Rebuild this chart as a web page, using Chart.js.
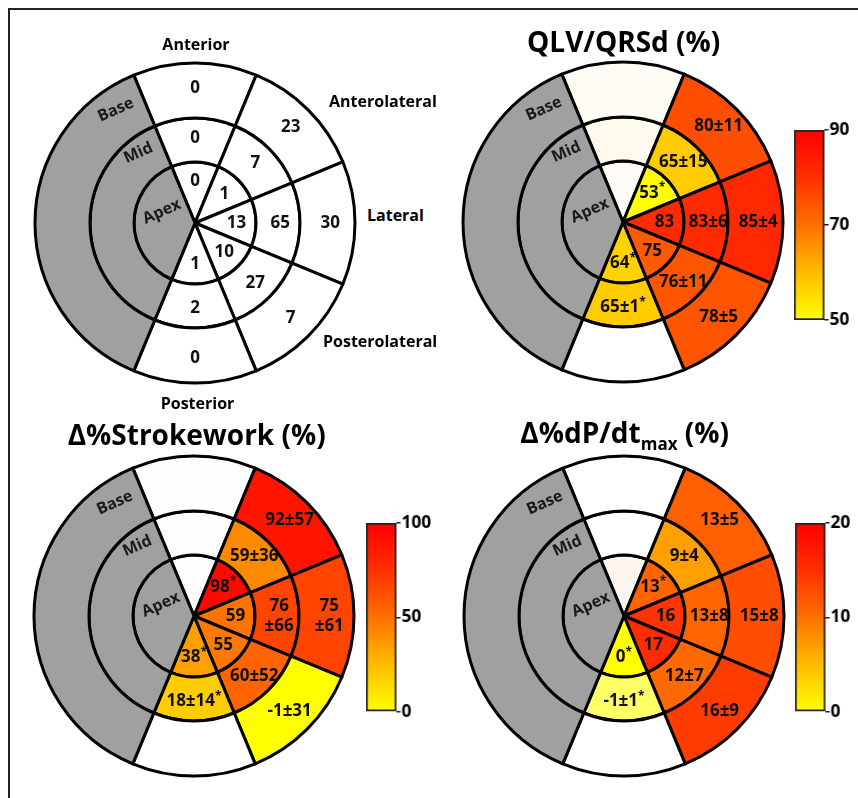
<!DOCTYPE html>
<html><head><meta charset="utf-8">
<script src="https://cdn.jsdelivr.net/npm/chart.js@4.4.1/dist/chart.umd.min.js"></script>
<style>
html,body{margin:0;padding:0;background:#fff;}
#page{position:relative;width:858px;height:798px;overflow:hidden;background:#fff;font-family:'Open Sans',sans-serif;font-weight:700;color:#000;}
#page canvas{position:absolute;}
.t{position:absolute;white-space:nowrap;line-height:1;font-weight:700;}
.frame{position:absolute;background:#222;}
</style></head><body><div id="page">
<div class="frame" style="left:8px;top:8px;width:850px;height:2px"></div>
<div class="frame" style="left:8px;top:8px;width:2px;height:790px"></div>
</div>
<script>
// ---------- structure ----------
const segmentNames = ['Anterior', 'Anterolateral', 'Lateral', 'Posterolateral', 'Posterior'];
const ringNames = ['Base', 'Mid', 'Apex'];
const segmentSpanDeg = [45, 45, 45, 45, 45, 135]; // 5 free-wall segments + septum

// ---------- panel A: LV lead positions (counts) ----------
const leadCountBase = [0, 23, 30, 7, 0];
const leadCountMid  = [0, 7, 65, 27, 2];
const leadCountApex = [0, 1, 13, 10, 1];

// ---------- panel B: QLV/QRSd (%) ----------
const qlvBaseMean = [null, 80, 85, 78, null];
const qlvBaseSd   = [null, 11, 4, 5, null];
const qlvMidMean  = [null, 65, 83, 76, 65];
const qlvMidSd    = [null, 15, 6, 11, 1];
const qlvApexMean = [null, 53, 83, 75, 64];
const qlvMidSig   = [4];
const qlvApexSig  = [1, 4];
const qlvTicks    = [50, 70, 90];

// ---------- panel C: Δ%Strokework (%) ----------
const swBaseMean = [null, 92, 75, -1, null];
const swBaseSd   = [null, 57, 61, 31, null];
const swMidMean  = [null, 59, 76, 60, 18];
const swMidSd    = [null, 36, 66, 52, 14];
const swApexMean = [null, 98, 59, 55, 38];
const swMidSig   = [4];
const swApexSig  = [1, 4];
const swTicks    = [0, 50, 100];

// ---------- panel D: Δ%dP/dtmax (%) ----------
const dpBaseMean = [null, 13, 15, 16, null];
const dpBaseSd   = [null, 5, 8, 9, null];
const dpMidMean  = [null, 9, 13, 12, -1];
const dpMidSd    = [null, 4, 8, 7, 1];
const dpApexMean = [null, 13, 16, 17, 0];
const dpMidSig   = [4];
const dpApexSig  = [1, 4];
const dpTicks    = [0, 10, 20];

// ---------- styles ----------
const SEPTUM = '#A0A0A0';
const ringWeights = [55, 44, 61];
const leadColors = [
  ['#FFFFFF', '#FFFFFF', '#FFFFFF', '#FFFFFF', '#FFFFFF'],
  ['#FFFFFF', '#FFFFFF', '#FFFFFF', '#FFFFFF', '#FFFFFF'],
  ['#FFFFFF', '#FFFFFF', '#FFFFFF', '#FFFFFF', '#FFFFFF']
];
const qlvColors = [
  ['#FFFBF5', '#FF4E00', '#FF2800', '#FF5500', '#FFFFFF'],
  ['#FFF8EC', '#FFCC00', '#FF2A00', '#FF5500', '#FFCC00'],
  ['#FFFCF8', '#FFFF00', '#FF2A00', '#FF5A00', '#FFD200']
];
const swColors = [
  ['#FEFEFE', '#FF1400', '#FF4400', '#FFFF00', '#FFFFFF'],
  ['#FEFDFC', '#FF8A00', '#FF4400', '#FF6400', '#FFCC00'],
  ['#FEFDFC', '#FF0800', '#FF7400', '#FF7800', '#FFA000']
];
const dpColors = [
  ['#FFFFFF', '#FF5F00', '#FF4E00', '#FF3C00', '#FFFFFF'],
  ['#FFFFFF', '#FFA000', '#FF6400', '#FF6A00', '#FFFF66'],
  ['#FFF5F0', '#FF6400', '#FF3400', '#FF2C00', '#FFFF00']
];

// ---------- helpers ----------
function fmt(mean, sd, sig, seg) {
  if (mean === null || mean === undefined) return '';
  let s = String(mean);
  if (sd !== null && sd !== undefined) {
    const long = (String(mean) + String(sd)).length >= 4;
    s = (seg === 2 && long) ? s + '\n±' + sd : s + '±' + sd;
  }
  return s + (sig ? '*' : '');
}
function ringText(means, sds, sigIdx) {
  return means.map((m, i) => fmt(m, sds ? sds[i] : null, sigIdx.includes(i), i));
}

const page = document.getElementById('page');
function addText(html, x, y, size, align) {
  const d = document.createElement('div');
  d.className = 't';
  d.style.fontSize = size + 'px';
  d.style.left = x + 'px';
  d.style.top = y + 'px';
  d.style.transform = align === 'left' ? 'translate(0,-50%)' : 'translate(-50%,-50%)';
  d.innerHTML = html;
  page.appendChild(d);
  return d;
}
function addCanvas(left, top, w, h) {
  const c = document.createElement('canvas');
  c.width = w; c.height = h;
  c.style.left = left + 'px'; c.style.top = top + 'px';
  c.style.width = w + 'px'; c.style.height = h + 'px';
  page.appendChild(c);
  return c;
}

Chart.defaults.font.family = "'Open Sans', sans-serif";

function drawLabel(ctx, text, x, y) {
  const lines = text.split('\n');
  const lh = 20;
  lines.forEach((line, i) => {
    const ly = y + (i - (lines.length - 1) / 2) * lh;
    let main = line, star = false;
    if (line.endsWith('*')) { main = line.slice(0, -1); star = true; }
    ctx.font = "bold 17px 'Open Sans'";
    const w = ctx.measureText(main).width;
    ctx.font = "bold 12px 'Open Sans'";
    const sw = star ? ctx.measureText('*').width : 0;
    const sx = x - (w + sw) / 2;
    ctx.textAlign = 'left';
    ctx.textBaseline = 'middle';
    ctx.font = "bold 17px 'Open Sans'";
    ctx.fillText(main, sx, ly);
    if (star) {
      ctx.font = "bold 12px 'Open Sans'";
      ctx.fillText('*', sx + w, ly - 5);
    }
  });
}

const ringNamePos = [ // polar position of ring captions in the septal area (deg, px)
  {ang: 125, r: 138},
  {ang: 129, r: 90},
  {ang: 161, r: 35}
];

const valueLabelPlugin = {
  id: 'valueLabels',
  afterDatasetsDraw(chart, args, opts) {
    const ctx = chart.ctx;
    ctx.save();
    ctx.fillStyle = '#111';
    let cx = 0, cy = 0;
    chart.data.datasets.forEach((ds, di) => {
      const meta = chart.getDatasetMeta(di);
      meta.data.forEach((arc, j) => {
        const p = arc.getProps(['x', 'y', 'startAngle', 'endAngle', 'innerRadius', 'outerRadius'], true);
        cx = p.x; cy = p.y;
        const t = opts.texts[di][j];
        if (!t) return;
        const mid = (p.startAngle + p.endAngle) / 2;
        const f = p.innerRadius < 1 ? 0.68 : 0.55;
        const r = p.innerRadius + (p.outerRadius - p.innerRadius) * f;
        drawLabel(ctx, t, p.x + Math.cos(mid) * r, p.y + Math.sin(mid) * r);
      });
    });
    // ring captions
    ctx.fillStyle = '#1a1a1a';
    ctx.font = "bold 16px 'Open Sans'";
    ctx.textAlign = 'center';
    ctx.textBaseline = 'middle';
    ringNames.forEach((name, i) => {
      const a = ringNamePos[i].ang * Math.PI / 180;
      const x = cx + Math.cos(a) * ringNamePos[i].r;
      const y = cy - Math.sin(a) * ringNamePos[i].r;
      ctx.save();
      ctx.translate(x, y);
      ctx.rotate(-24 * Math.PI / 180);
      ctx.fillText(name, 0, 0);
      ctx.restore();
    });
    ctx.restore();
  }
};

function makeBullseye(cx, cy, texts, colors) {
  const size = 340;
  const c = addCanvas(cx - size / 2, cy - size / 2, size, size);
  return new Chart(c, {
    type: 'doughnut',
    data: {
      labels: segmentNames.concat(['Septum']),
      datasets: ringNames.map((ring, i) => ({
        label: ring,
        data: segmentSpanDeg,
        backgroundColor: colors[i].concat([SEPTUM]),
        borderColor: '#000',
        borderWidth: 3,
        borderJoinStyle: 'round',
        weight: ringWeights[i]
      }))
    },
    options: {
      responsive: false,
      animation: false,
      events: [],
      rotation: -22.5,
      cutout: 0,
      radius: 160,
      layout: {padding: 0},
      plugins: {
        legend: {display: false},
        tooltip: {enabled: false},
        valueLabels: {texts}
      }
    },
    plugins: [valueLabelPlugin]
  });
}

const barStops = [[0, '#FFFF00'], [0.25, '#FFBC00'], [0.5, '#FF7000'], [0.75, '#FF3000'], [1, '#FF0000']];
function makeColorbar(rect, ticks) {
  const padT = 14, padB = 14, padL = 3, axisW = 40;
  const w = padL + (rect.R - rect.L) + axisW;
  const h = padT + (rect.B - rect.T) + padB;
  const c = addCanvas(rect.L - padL, rect.T - padT, w, h);
  const lo = ticks[0], hi = ticks[ticks.length - 1];
  return new Chart(c, {
    type: 'bar',
    data: {
      labels: [''],
      datasets: [{
        data: [[lo, hi]],
        backgroundColor: (ctx) => {
          const ch = ctx.chart; const a = ch.chartArea;
          if (!a) return '#FF8000';
          const g = ch.ctx.createLinearGradient(0, a.bottom, 0, a.top);
          barStops.forEach(s => g.addColorStop(s[0], s[1]));
          return g;
        },
        borderColor: '#222',
        borderWidth: 2,
        borderSkipped: false,
        barPercentage: 1,
        categoryPercentage: 1
      }]
    },
    options: {
      responsive: false,
      animation: false,
      events: [],
      layout: {padding: {top: padT, bottom: padB, left: padL, right: 0}},
      plugins: {legend: {display: false}, tooltip: {enabled: false}},
      scales: {
        x: {display: false},
        y: {
          position: 'right',
          min: lo, max: hi,
          afterFit: (s) => { s.width = axisW; },
          border: {display: false},
          grid: {display: true, drawOnChartArea: false, drawTicks: true, tickLength: 4, color: '#222', lineWidth: 1.5},
          ticks: {stepSize: ticks[1] - ticks[0], padding: 1, color: '#000', font: {size: 17, weight: 'bold'}}
        }
      }
    }
  });
}

// ---------- panel A ----------
makeBullseye(195, 223, [leadCountBase.map(String), leadCountMid.map(String), leadCountApex.map(String)], leadColors);
addText(segmentNames[0], 196, 44, 16);
addText(segmentNames[1], 329, 101, 16, 'left');
addText(segmentNames[2], 367, 215, 16, 'left');
addText(segmentNames[3], 323, 341, 16, 'left');
addText(segmentNames[4], 197.5, 402.5, 16);

// ---------- panel B ----------
makeBullseye(623, 222, [
  ringText(qlvBaseMean, qlvBaseSd, []),
  ringText(qlvMidMean, qlvMidSd, qlvMidSig),
  ringText(qlvApexMean, null, qlvApexSig)
], qlvColors);
addText('QLV/QRSd (%)', 623.7, 41, 28);
makeColorbar({L: 794, R: 824.5, T: 129.5, B: 319.5}, qlvTicks);

// ---------- panel C ----------
makeBullseye(193.5, 616, [
  ringText(swBaseMean, swBaseSd, []),
  ringText(swMidMean, swMidSd, swMidSig),
  ringText(swApexMean, null, swApexSig)
], swColors);
addText('Δ%Strokework (%)', 196.7, 433.5, 28);
makeColorbar({L: 366, R: 396.5, T: 522.5, B: 711.7}, swTicks);

// ---------- panel D ----------
makeBullseye(623.5, 616, [
  ringText(dpBaseMean, dpBaseSd, []),
  ringText(dpMidMean, dpMidSd, dpMidSig),
  ringText(dpApexMean, null, dpApexSig)
], dpColors);
addText('Δ%dP/dt<span style="font-size:17px;position:relative;top:7px">max</span> (%)', 624.7, 432, 28);
makeColorbar({L: 795, R: 825.5, T: 522.5, B: 711.7}, dpTicks);
</script></body></html>
